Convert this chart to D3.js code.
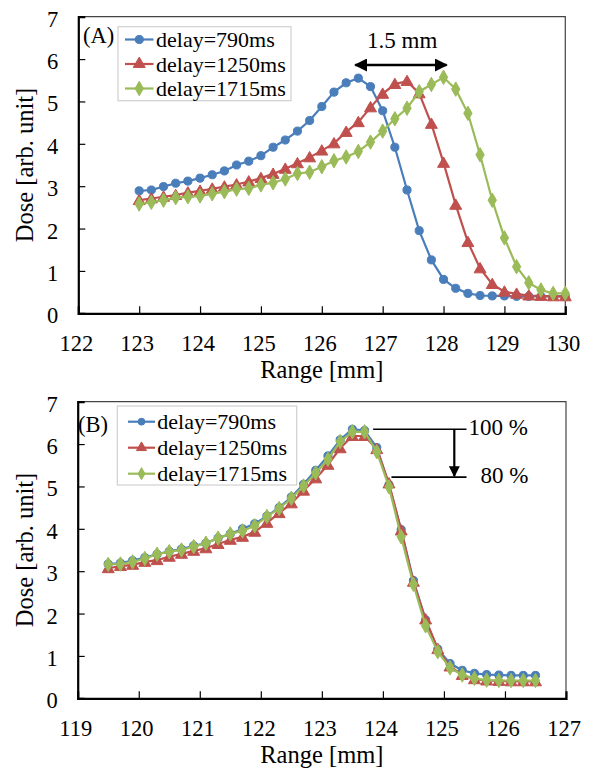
<!DOCTYPE html>
<html><head><meta charset="utf-8">
<script src="https://cdn.jsdelivr.net/npm/d3@7"></script>
<style>body{margin:0;background:#fff}svg{display:block}svg text{font-family:"Liberation Serif","Tinos","Times New Roman",Times,"DejaVu Serif",serif !important;fill:#000}</style>
</head><body><svg id="c" width="590" height="772"></svg>
<script>
// ---- Data ----
const seriesNames = ["delay=790ms", "delay=1250ms", "delay=1715ms"];
const colors = ["#4A7EBB", "#C0504D", "#9BBB59"];
const symbols = ["circle", "triangle", "diamond"];

const rangeA = [123.0,123.2,123.4,123.6,123.8,124.0,124.2,124.4,124.6,124.8,125.0,125.2,125.4,125.6,125.8,126.0,126.2,126.4,126.6,126.8,127.0,127.2,127.4,127.6,127.8,128.0,128.2,128.4,128.6,128.8,129.0,129.2,129.4,129.6,129.8,130.0];
const doseA790  = [2.89,2.91,2.99,3.07,3.12,3.19,3.27,3.36,3.50,3.59,3.72,3.92,4.09,4.30,4.55,4.88,5.22,5.44,5.55,5.35,4.78,3.92,2.91,1.95,1.26,0.80,0.59,0.47,0.42,0.41,0.41,0.40,0.40,0.40,0.40,0.40];
const doseA1250 = [2.67,2.71,2.75,2.79,2.85,2.89,2.94,2.99,3.04,3.11,3.19,3.29,3.41,3.54,3.68,3.84,4.01,4.28,4.51,4.86,5.18,5.41,5.48,5.19,4.47,3.55,2.56,1.68,1.06,0.69,0.51,0.46,0.42,0.41,0.40,0.40];
const doseA1715 = [2.58,2.62,2.67,2.73,2.75,2.77,2.82,2.87,2.93,2.95,3.03,3.08,3.17,3.30,3.33,3.46,3.60,3.69,3.82,4.04,4.30,4.59,4.84,5.23,5.40,5.57,5.29,4.72,3.74,2.67,1.78,1.10,0.72,0.55,0.47,0.47];

const rangeB = [119.5,119.7,119.9,120.1,120.3,120.5,120.7,120.9,121.1,121.3,121.5,121.7,121.9,122.1,122.3,122.5,122.7,122.9,123.1,123.3,123.5,123.7,123.9,124.1,124.3,124.5,124.7,124.9,125.1,125.3,125.5,125.7,125.9,126.1,126.3,126.5];
const doseB790  = [3.17,3.19,3.25,3.32,3.40,3.47,3.52,3.60,3.66,3.78,3.88,4.00,4.12,4.30,4.50,4.75,5.05,5.38,5.72,6.10,6.35,6.32,5.92,5.04,3.98,2.78,1.85,1.16,0.82,0.66,0.59,0.56,0.55,0.54,0.54,0.54];
const doseB1250 = [3.07,3.12,3.15,3.22,3.26,3.34,3.41,3.48,3.54,3.64,3.74,3.81,3.93,4.14,4.37,4.60,4.90,5.19,5.51,5.90,6.19,6.19,5.88,5.07,3.96,2.75,1.86,1.16,0.75,0.55,0.45,0.42,0.41,0.40,0.40,0.40];
const doseB1715 = [3.16,3.17,3.22,3.30,3.40,3.46,3.50,3.58,3.66,3.78,3.88,3.95,4.07,4.29,4.48,4.72,5.01,5.32,5.64,6.06,6.29,6.29,5.82,4.99,3.81,2.69,1.71,1.10,0.72,0.55,0.47,0.43,0.42,0.42,0.42,0.42];

const xTicksA = [122,123,124,125,126,127,128,129,130];
const xTicksB = [119,120,121,122,123,124,125,126,127];
const yTicks = [0,1,2,3,4,5,6,7];
const xTitle = "Range [mm]";
const yTitle = "Dose [arb. unit]";

// annotations (data units)
const annA = {x1:126.55, x2:128.05, y:5.86, label:"1.5 mm", lx:127.32, ly:6.25};
const annB = {top:6.35, low:5.22, topX1:123.84, lowX1:124.14, x2:125.37, arrowX:125.17, topLabel:"100 %", lowLabel:"80 %"};

// ---- Drawing ----
const FF = '"Liberation Serif","Tinos","Times New Roman",Times,"DejaVu Serif",serif';
const svg = d3.select("#c");
svg.append("rect").attr("width",590).attr("height",772).attr("fill","#fff");
const FONT_TICK = 22.5, FONT_TITLE = 24.5, FONT_LEG = 22;

function symPath(type, size){
  const t = type==="circle"?d3.symbolCircle:type==="triangle"?d3.symbolTriangle:d3.symbolDiamond;
  return d3.symbol().type(t).size(size)();
}
const symSize = {circle:52, triangle:62, diamond:60};

function panel(cfg){
  const {x0,x1,yTop,yBot,domain,xTicks,xs,ys,label,leg} = cfg;
  const x = d3.scaleLinear().domain(domain).range([x0,x1]);
  const y = d3.scaleLinear().domain([0,7]).range([yBot,yTop]);
  const g = svg.append("g");
  g.append("path").attr("d",`M${x0},${yTop}H${x1}V${yBot}`).attr("fill","none").attr("stroke","#444").attr("stroke-width",1.2);
  const ax = d3.axisBottom(x).tickValues(xTicks).tickSize(-7).tickPadding(0).tickFormat(d3.format("d"));
  const gx = g.append("g").attr("transform",`translate(0,${yBot})`).call(ax).attr("font-family",FF);
  gx.select(".domain").attr("stroke","#000").attr("stroke-width",2.2);
  gx.selectAll(".tick line").attr("stroke","#000").attr("stroke-width",1.2);
  gx.selectAll(".tick text").attr("font-size",FONT_TICK).attr("font-family",FF).attr("y",38).attr("dy",0).attr("dx",-2.5).attr("fill","#000");
  const ay = d3.axisLeft(y).tickValues(yTicks).tickSize(-7).tickPadding(0).tickFormat(d3.format("d"));
  const gy = g.append("g").attr("transform",`translate(${x0},0)`).call(ay).attr("font-family",FF);
  gy.select(".domain").attr("stroke","#000").attr("stroke-width",2.2);
  gy.selectAll(".tick line").attr("stroke","#000").attr("stroke-width",1.2);
  gy.selectAll(".tick text").attr("font-size",FONT_TICK).attr("font-family",FF).attr("x",-20).attr("dy",9.5).attr("fill","#000");
  gx.selectAll(".tick").filter(d=>d===domain[0]||d===domain[1]).select("line").remove();
  gy.selectAll(".tick").filter(d=>d===0||d===7).select("line").remove();
  g.append("text").attr("x",(x0+x1)/2).attr("y",yBot+65).attr("text-anchor","middle").attr("font-family",FF).attr("font-size",FONT_TITLE).text(xTitle);
  g.append("text").attr("transform",`translate(33,${(yTop+yBot)/2}) rotate(-90)`).attr("text-anchor","middle").attr("font-family",FF).attr("font-size",FONT_TITLE).text(yTitle);
  const line = d3.line().x((d)=>x(d[0])).y(d=>y(d[1]));
  ys.forEach((vals,i)=>{
    const pts = xs.map((v,j)=>[v,vals[j]]);
    g.append("path").datum(pts).attr("d",line).attr("fill","none").attr("stroke",colors[i]).attr("stroke-width",2.2);
    g.selectAll(null).data(pts).enter().append("path")
      .attr("d",symPath(symbols[i],symSize[symbols[i]]))
      .attr("transform",d=>`translate(${x(d[0])},${y(d[1])+(symbols[i]==="triangle"?1:0)})`)
      .attr("fill",colors[i]).attr("stroke",colors[i]).attr("stroke-width",1);
  });
  g.append("text").attr("x",label.x).attr("y",label.y).attr("font-family",FF).attr("font-size",22.5).text(label.t);
  g.append("rect").attr("x",leg.x).attr("y",leg.y).attr("width",leg.w).attr("height",leg.h).attr("fill","#fff").attr("stroke","#d0d0d0").attr("stroke-width",1.2);
  seriesNames.forEach((n,i)=>{
    const cy = leg.y0 + i*leg.dy;
    g.append("line").attr("x1",leg.lx1).attr("x2",leg.lx2).attr("y1",cy).attr("y2",cy).attr("stroke",colors[i]).attr("stroke-width",2.2);
    g.append("path").attr("d",symPath(symbols[i],symSize[symbols[i]]*leg.ms)).attr("transform",`translate(${(leg.lx1+leg.lx2)/2},${cy})`).attr("fill",colors[i]).attr("stroke",colors[i]);
    g.append("text").attr("x",leg.tx).attr("y",cy+7.5).attr("font-family",FF).attr("font-size",FONT_LEG).text(n);
  });
  return {g,x,y};
}

const A = panel({x0:78.3,x1:565.3,yTop:16.7,yBot:313.3,domain:[122,130],xTicks:xTicksA,xs:rangeA,ys:[doseA790,doseA1250,doseA1715],
  label:{x:83,y:43,t:"(A)"},
  leg:{x:118,y:26.7,w:173,h:74,y0:39.5,dy:24.5,lx1:125,lx2:153.5,tx:156,ms:1}});
const B = panel({x0:77.7,x1:566,yTop:401.7,yBot:698.3,domain:[119,127],xTicks:xTicksB,xs:rangeB,ys:[doseB790,doseB1250,doseB1715],
  label:{x:78,y:431.5,t:"(B)"},
  leg:{x:117.3,y:406,w:179.4,h:79,y0:421.7,dy:26,lx1:128,lx2:155,tx:157.3,ms:0.7}});

const defs = svg.append("defs");
defs.append("marker").attr("id","ah").attr("viewBox","0 0 10 10").attr("refX",9).attr("refY",5)
  .attr("markerWidth",5).attr("markerHeight",5).attr("markerUnits","strokeWidth").attr("orient","auto-start-reverse")
  .append("path").attr("d","M0,0L10,5L0,10Z").attr("fill","#000");

A.g.append("line").attr("x1",A.x(annA.x1)).attr("x2",A.x(annA.x2)).attr("y1",A.y(annA.y)).attr("y2",A.y(annA.y))
  .attr("stroke","#000").attr("stroke-width",2.6).attr("marker-start","url(#ah)").attr("marker-end","url(#ah)");
A.g.append("text").attr("x",A.x(annA.lx)).attr("y",A.y(annA.ly)).attr("text-anchor","middle").attr("font-family",FF).attr("font-size",23).text(annA.label);

B.g.append("line").attr("x1",B.x(annB.topX1)).attr("x2",B.x(annB.x2)).attr("y1",B.y(annB.top)).attr("y2",B.y(annB.top)).attr("stroke","#000").attr("stroke-width",1.6);
B.g.append("line").attr("x1",B.x(annB.lowX1)).attr("x2",B.x(annB.x2)).attr("y1",B.y(annB.low)).attr("y2",B.y(annB.low)).attr("stroke","#000").attr("stroke-width",1.6);
B.g.append("line").attr("x1",B.x(annB.arrowX)).attr("x2",B.x(annB.arrowX)).attr("y1",B.y(annB.top)).attr("y2",B.y(annB.low)-1)
  .attr("stroke","#000").attr("stroke-width",2.2).attr("marker-end","url(#ah)");
B.g.append("text").attr("x",B.x(annB.x2)+2).attr("y",B.y(annB.top)+6).attr("font-family",FF).attr("font-size",23).text(annB.topLabel);
B.g.append("text").attr("x",B.x(annB.x2)+14).attr("y",B.y(annB.low)+6).attr("font-family",FF).attr("font-size",23).text(annB.lowLabel);
</script></body></html>
